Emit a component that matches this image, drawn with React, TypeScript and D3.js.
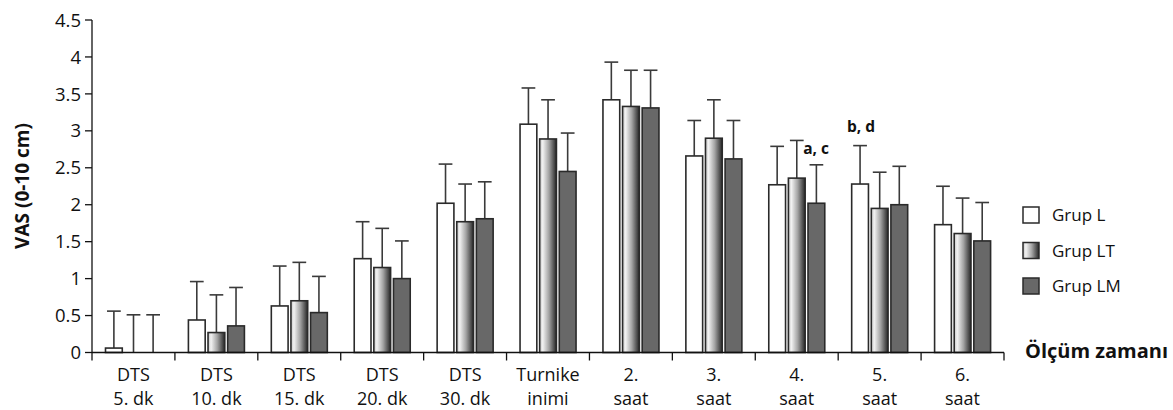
import * as d3 from 'd3'

const categories = [
  ['DTS', '5. dk'],
  ['DTS', '10. dk'],
  ['DTS', '15. dk'],
  ['DTS', '20. dk'],
  ['DTS', '30. dk'],
  ['Turnike', 'inimi'],
  ['2.', 'saat'],
  ['3.', 'saat'],
  ['4.', 'saat'],
  ['5.', 'saat'],
  ['6.', 'saat'],
]

const groups = ['Grup L', 'Grup LT', 'Grup LM']

const meanL = [0.06, 0.44, 0.63, 1.27, 2.02, 3.09, 3.42, 2.66, 2.27, 2.28, 1.73]
const meanLT = [0, 0.27, 0.7, 1.15, 1.77, 2.89, 3.33, 2.9, 2.36, 1.95, 1.61]
const meanLM = [0, 0.36, 0.54, 1.0, 1.81, 2.45, 3.31, 2.62, 2.02, 2.0, 1.51]

const upperL = [0.56, 0.96, 1.17, 1.77, 2.55, 3.58, 3.93, 3.14, 2.79, 2.8, 2.25]
const upperLT = [0.51, 0.78, 1.22, 1.68, 2.28, 3.42, 3.82, 3.42, 2.87, 2.44, 2.09]
const upperLM = [0.51, 0.88, 1.03, 1.51, 2.31, 2.97, 3.82, 3.14, 2.54, 2.52, 2.03]

const yTicks = [0, 0.5, 1, 1.5, 2, 2.5, 3, 3.5, 4, 4.5]

const means = [meanL, meanLT, meanLM]
const uppers = [upperL, upperLT, upperLM]

const fills = ['#ffffff', 'url(#ltGrad)', '#686868']

const W = 1173
const H = 410
const font = "'Open Sans', 'Noto Sans', sans-serif"

export default function App() {
  const x = d3.scaleBand<number>().domain(d3.range(categories.length)).range([92, 1004]).padding(0)
  const inner = d3.scaleBand<number>().domain([0, 1, 2]).range([13.5, 69.5]).paddingInner(0.145)
  const y = d3.scaleLinear().domain([0, 4.5]).range([352.5, 20])

  const bw = inner.bandwidth()
  const cap = bw * 0.82
  const x0Axis = x.range()[0]

  return (
    <svg
      width={W}
      height={H}
      style={{ position: 'absolute', left: 0, top: 0, display: 'block', fontFamily: font }}
    >
      <defs>
        <linearGradient id="ltGrad" x1="0" x2="1" y1="0" y2="0">
          <stop offset="0%" stopColor="#c4c4c4" />
          <stop offset="18%" stopColor="#f2f2f2" />
          <stop offset="55%" stopColor="#a4a4a4" />
          <stop offset="100%" stopColor="#262626" />
        </linearGradient>
      </defs>

      {/* bars and error bars */}
      {categories.map((_, ci) =>
        groups.map((g, gi) => {
          const bx = (x(ci) ?? 0) + (inner(gi) ?? 0)
          const cx = bx + bw / 2
          const v = means[gi][ci]
          const u = uppers[gi][ci]
          return (
            <g key={`${ci}-${gi}`}>
              <line x1={cx} x2={cx} y1={y(v)} y2={y(u)} stroke="#3a3a3a" strokeWidth={1.6} />
              <line x1={cx - cap / 2} x2={cx + cap / 2} y1={y(u)} y2={y(u)} stroke="#3a3a3a" strokeWidth={1.6} />
              {v > 0 && (
                <rect
                  x={bx}
                  y={y(v)}
                  width={bw}
                  height={y(0) - y(v)}
                  fill={fills[gi]}
                  stroke="#2a2a2a"
                  strokeWidth={1.6}
                />
              )}
            </g>
          )
        })
      )}

      {/* significance marks */}
      <text
        x={(x(8) ?? 0) + (inner(1) ?? 0) + bw - 2}
        y={y(2.68)}
        fontSize={15.5}
        fontWeight={700}
        fill="#111"
      >
        a, c
      </text>
      <text
        x={(x(9) ?? 0) + (inner(0) ?? 0) + bw / 2 + 1}
        y={y(2.98)}
        fontSize={15.5}
        fontWeight={700}
        fill="#111"
        textAnchor="middle"
      >
        b, d
      </text>

      {/* y axis */}
      <line x1={x0Axis} x2={x0Axis} y1={y(4.5)} y2={y(0)} stroke="#111" strokeWidth={1.3} />
      {yTicks.map(t => (
        <g key={t}>
          <line x1={x0Axis - 7} x2={x0Axis} y1={y(t)} y2={y(t)} stroke="#111" strokeWidth={1.3} />
          <text x={x0Axis - 11} y={y(t)} dy="0.36em" textAnchor="end" fontSize={18.5} fill="#111">
            {t}
          </text>
        </g>
      ))}

      {/* x axis */}
      <line x1={x.range()[0]} x2={x.range()[1]} y1={y(0)} y2={y(0)} stroke="#111" strokeWidth={1.3} />
      {d3.range(categories.length + 1).map(i => {
        const px = x.range()[0] + i * x.step()
        return <line key={i} x1={px} x2={px} y1={y(0)} y2={y(0) + 8} stroke="#111" strokeWidth={1.3} />
      })}
      {categories.map((c, ci) => {
        const cx = (x(ci) ?? 0) + x.bandwidth() / 2
        return (
          <text key={ci} textAnchor="middle" fontSize={18} fill="#111">
            <tspan x={cx} y={381}>{c[0]}</tspan>
            <tspan x={cx} y={405}>{c[1]}</tspan>
          </text>
        )
      })}

      {/* y title */}
      <text
        transform={`translate(22,186) rotate(-90)`}
        textAnchor="middle"
        dy="0.35em"
        fontSize={19}
        fontWeight={700}
        fill="#111"
      >
        VAS (0-10 cm)
      </text>

      {/* legend */}
      {groups.map((g, gi) => (
        <g key={g} transform={`translate(1023,${207 + gi * 35.5})`}>
          <rect x={0} y={0} width={16} height={16} fill={fills[gi]} stroke="#2a2a2a" strokeWidth={1.5} />
          <text x={29} y={8} dy="0.36em" fontSize={17} fill="#111">
            {g}
          </text>
        </g>
      ))}
      <text x={1025} y={358} fontSize={20} fontWeight={700} fill="#111">
        Ölçüm zamanı
      </text>
    </svg>
  )
}
